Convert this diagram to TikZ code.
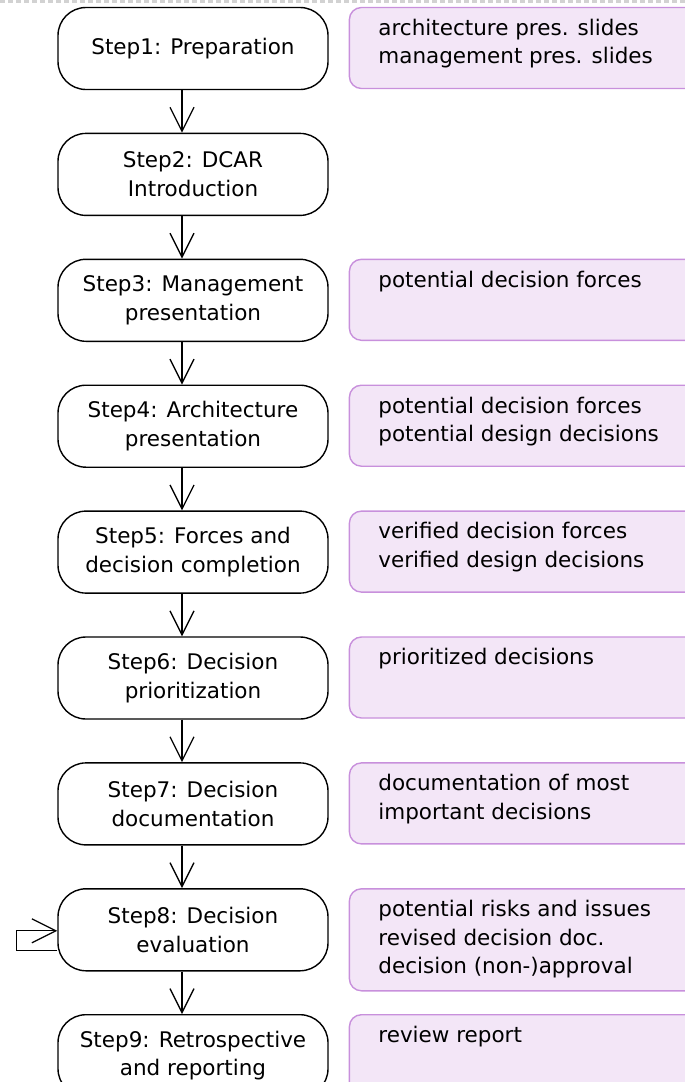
\documentclass[tikz,border=0pt]{standalone}
\usepackage{fontspec}
\setmainfont{DejaVu Sans}
\usetikzlibrary{arrows.meta, positioning}
\definecolor{outfill}{HTML}{F3E6F7}
\definecolor{outdraw}{HTML}{C890DC}
\newcommand{\stepfont}{\fontsize{21.5}{28.5}\selectfont}
\newcommand{\outtext}[2][58pt]{\parbox[c][#1][t]{300pt}{\raggedright\stepfont #2}}
\tikzset{
  stepbox/.style={draw, line width=1.4pt, rounded corners=28pt, minimum width=270pt, minimum height=82pt, align=center, font=\stepfont},
  outbox/.style={draw=outdraw, line width=1.4pt, fill=outfill, rounded corners=12pt, inner xsep=29pt, inner ysep=11.5pt, anchor=north west},
  arr/.style={-{Straight Barb[length=24pt, width=24pt]}, line width=1.3pt},
  topline/.style={gray!35, dash pattern=on 5pt off 3pt, line width=2.5pt},
}

\begin{document}
\begin{tikzpicture}[x=1pt, y=1pt, node distance=42.5pt]
    \clip (0,0) rectangle (685,-1082);
    \draw[topline] (0,-1.5) -- (685,-1.5);

    % steps
    \node[stepbox] (s1) at (193,-48.5) {Step1: Preparation};
    \node[stepbox, below=of s1] (s2) {Step2: DCAR\\Introduction};
    \node[stepbox, below=of s2] (s3) {Step3: Management\\presentation};
    \node[stepbox, below=of s3] (s4) {Step4: Architecture\\presentation};
    \node[stepbox, below=of s4] (s5) {Step5: Forces and\\decision completion};
    \node[stepbox, below=of s5] (s6) {Step6: Decision\\prioritization};
    \node[stepbox, below=of s6] (s7) {Step7: Decision\\documentation};
    \node[stepbox, below=of s7] (s8) {Step8: Decision\\evaluation};
    \node[stepbox, below=of s8] (s9) {Step9: Retrospective\\and reporting};

    % outputs
    \node[outbox] (o1) at ([xshift=20pt]s1.north east) {\outtext{architecture pres. slides\\management pres. slides}};
    \node[outbox] (o3) at ([xshift=20pt]s3.north east) {\outtext{potential decision forces}};
    \node[outbox] (o4) at ([xshift=20pt]s4.north east) {\outtext{potential decision forces\\potential design decisions}};
    \node[outbox] (o5) at ([xshift=20pt]s5.north east) {\outtext{verified decision forces\\verified design decisions}};
    \node[outbox] (o6) at ([xshift=20pt]s6.north east) {\outtext{prioritized decisions}};
    \node[outbox] (o7) at ([xshift=20pt]s7.north east) {\outtext{documentation of most\\important decisions}};
    \node[outbox] (o8) at ([xshift=20pt]s8.north east) {\outtext[79pt]{potential risks and issues\\revised decision doc.\\decision (non-)approval}};
    \node[outbox] (o9) at ([xshift=20pt]s9.north east) {\outtext{review report}};

    \foreach \a/\b in {s1/s2, s2/s3, s3/s4, s4/s5, s5/s6, s6/s7, s7/s8, s8/s9}
      \draw[arr] ([xshift=-11pt]\a.south) -- ([xshift=-11pt]\b.north);
    \draw[arr] ([yshift=-21pt]s8.west) -- ++(-41pt,0) |- ([yshift=-1pt]s8.west);
  \end{tikzpicture}
\end{document}
